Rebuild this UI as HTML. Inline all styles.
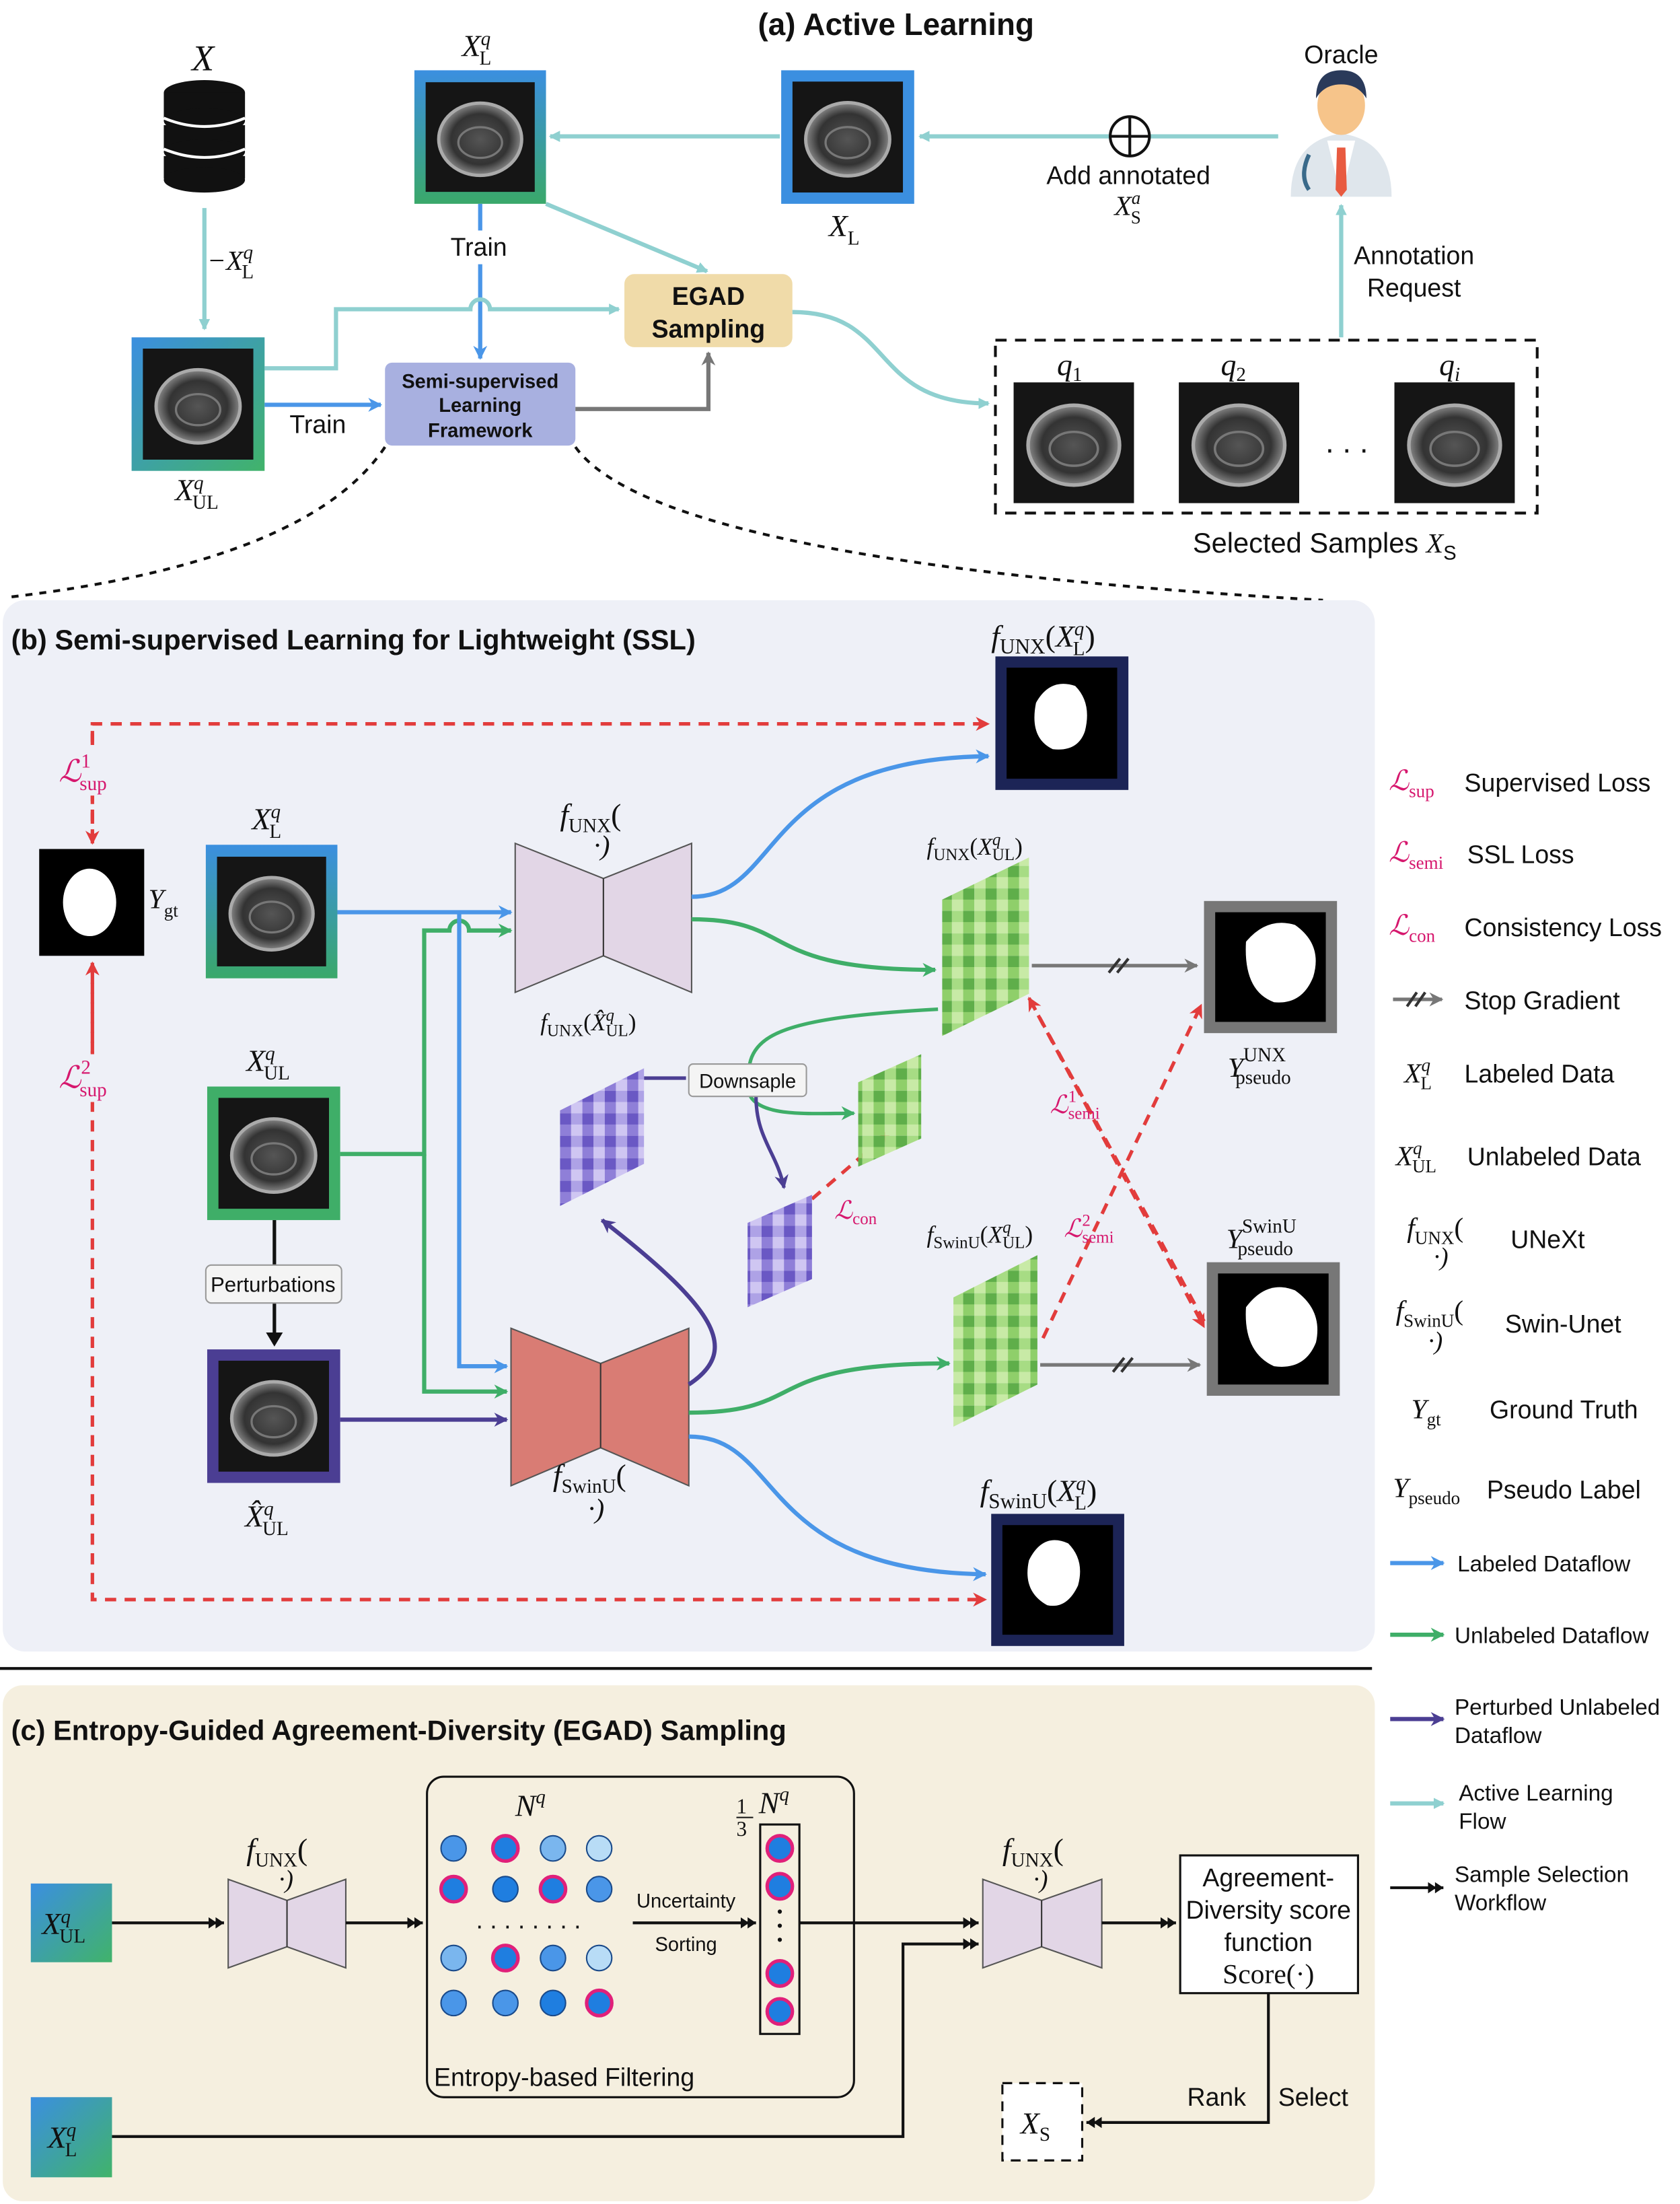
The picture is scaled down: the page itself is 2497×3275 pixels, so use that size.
<!DOCTYPE html>
<html><head><meta charset="utf-8"><style>
html,body{margin:0;padding:0;background:#fff}
svg{display:block}
text{font-family:"Liberation Sans",sans-serif;fill:#111}
.m{font-family:"Liberation Serif",serif;font-style:italic}
.r{font-family:"Liberation Serif",serif}
.u{font-style:normal}
</style></head><body>
<svg width="2497" height="3275" viewBox="0 0 1200 1568" preserveAspectRatio="none" xmlns="http://www.w3.org/2000/svg">
<defs>
<radialGradient id="rg" cx="50%" cy="50%" r="50%"><stop offset="0" stop-color="#555"/><stop offset=".7" stop-color="#333"/><stop offset="1" stop-color="#888"/></radialGradient>
<symbol id="us" viewBox="0 0 100 100"><rect width="100" height="100" fill="#151515"/><ellipse cx="50" cy="52" rx="38" ry="33" fill="url(#rg)" stroke="#aaa" stroke-width="3"/><ellipse cx="50" cy="55" rx="20" ry="14" fill="none" stroke="#777" stroke-width="2"/></symbol>
<linearGradient id="bg1" x1="0" y1="0" x2="0" y2="1"><stop offset="0" stop-color="#3b8fe0"/><stop offset="1" stop-color="#3aa86a"/></linearGradient>
<linearGradient id="bg2" x1="0" y1="0" x2="1" y2="1"><stop offset="0" stop-color="#3b8fe0"/><stop offset="1" stop-color="#41b36a"/></linearGradient>
<pattern id="pg" width="16" height="16" patternUnits="userSpaceOnUse"><rect width="8" height="8" fill="#8fcf6a"/><rect x="8" width="8" height="8" fill="#c8eaa6"/><rect y="8" width="8" height="8" fill="#5fae4a"/><rect x="8" y="8" width="8" height="8" fill="#a7dc84"/></pattern>
<pattern id="pp" width="16" height="16" patternUnits="userSpaceOnUse"><rect width="8" height="8" fill="#8f7fd8"/><rect x="8" width="8" height="8" fill="#cfc6f2"/><rect y="8" width="8" height="8" fill="#6a58c4"/><rect x="8" y="8" width="8" height="8" fill="#aea2e6"/></pattern>
<marker id="at" markerWidth="8" markerHeight="8" refX="7" refY="4" orient="auto" markerUnits="userSpaceOnUse"><path d="M0,0 L8,4 L0,8z" fill="#8fd0d0"/></marker>
<marker id="ab" markerWidth="10" markerHeight="10" refX="9" refY="5" orient="auto" markerUnits="userSpaceOnUse"><path d="M0,0 L10,5 L0,10 L3,5z" fill="#4a96e8"/></marker>
<marker id="ag" markerWidth="10" markerHeight="10" refX="9" refY="5" orient="auto" markerUnits="userSpaceOnUse"><path d="M0,0 L10,5 L0,10 L3,5z" fill="#3fae68"/></marker>
<marker id="ap" markerWidth="10" markerHeight="10" refX="9" refY="5" orient="auto" markerUnits="userSpaceOnUse"><path d="M0,0 L10,5 L0,10 L3,5z" fill="#4b3e93"/></marker>
<marker id="ar" markerWidth="10" markerHeight="10" refX="9" refY="5" orient="auto" markerUnits="userSpaceOnUse"><path d="M0,0 L10,5 L0,10 L3,5z" fill="#e23c3c"/></marker>
<marker id="agr" markerWidth="10" markerHeight="10" refX="9" refY="5" orient="auto" markerUnits="userSpaceOnUse"><path d="M0,0 L10,5 L0,10 L3,5z" fill="#777"/></marker>
<marker id="ak" markerWidth="12" markerHeight="8" refX="11" refY="4" orient="auto" markerUnits="userSpaceOnUse"><path d="M0,0 L6,4 L0,8z M5,0 L11,4 L5,8z" fill="#111"/></marker>
</defs>

<!-- (a) -->
<text x="640" y="25" font-size="22" font-weight="bold" text-anchor="middle">(a) Active Learning</text>
<text x="145" y="50" class="m" font-size="26" text-anchor="middle">X</text>
<g fill="#111"><ellipse cx="146" cy="66" rx="29" ry="9"/><rect x="117" y="66" width="58" height="18"/><ellipse cx="146" cy="86" rx="29" ry="9" /><rect x="117" y="89" width="58" height="18"/><ellipse cx="146" cy="108" rx="29" ry="9"/><rect x="117" y="111" width="58" height="16"/><ellipse cx="146" cy="128" rx="29" ry="9"/></g>
<g stroke="#fff" stroke-width="2" fill="none"><path d="M117,84 Q146,96 175,84"/><path d="M117,106 Q146,118 175,106"/></g>
<line x1="146" y1="148" x2="146" y2="234" stroke="#8fd0d0" stroke-width="3" marker-end="url(#at)"/>
<text x="148" y="192" class="m" font-size="20">−X<tspan font-size="14" dy="-8">q</tspan><tspan class="u" font-size="14" dx="-8" dy="14">L</tspan></text>

<rect x="296" y="50" width="94" height="95" fill="url(#bg1)"/><use href="#us" x="304" y="58" width="78" height="79"/>
<text x="330" y="40" class="m" font-size="22">X<tspan font-size="14" dy="-8">q</tspan><tspan class="u" font-size="14" dx="-8" dy="14">L</tspan></text>
<rect x="558" y="50" width="95" height="95" fill="#3b8fe0"/><use href="#us" x="566" y="58" width="79" height="79"/>
<text x="592" y="168" class="m" font-size="22">X<tspan class="u" font-size="14" dy="6">L</tspan></text>
<line x1="913" y1="97" x2="657" y2="97" stroke="#8fd0d0" stroke-width="3" marker-end="url(#at)"/>
<line x1="557" y1="97" x2="393" y2="97" stroke="#8fd0d0" stroke-width="3" marker-end="url(#at)"/>
<circle cx="807" cy="97" r="14" fill="#fff" stroke="#111" stroke-width="2"/><path d="M793,97h28M807,83v28" stroke="#111" stroke-width="2"/>
<text x="806" y="131" font-size="18" text-anchor="middle">Add annotated</text>
<text x="796" y="153" class="m" font-size="20">X<tspan font-size="13" dy="-8">a</tspan><tspan class="u" font-size="13" dx="-7" dy="14">S</tspan></text>
<text x="958" y="45" font-size="18" text-anchor="middle">Oracle</text>
<path d="M922,140 Q922,100 958,95 Q994,100 994,140z" fill="#dfe6ec"/>
<path d="M948,100 L958,140 L968,100z" fill="#fff"/><path d="M955,105 L961,105 L962,135 L958,140 L954,135z" fill="#e85a40"/>
<ellipse cx="958" cy="75" rx="17" ry="21" fill="#f6c48a"/><path d="M940,70 Q940,50 958,50 Q976,50 976,70 Q970,60 958,60 Q946,60 940,70z" fill="#2a3a5a"/>
<path d="M935,110 Q928,125 935,135" stroke="#3a6a8a" stroke-width="3" fill="none"/>
<line x1="958" y1="240" x2="958" y2="146" stroke="#8fd0d0" stroke-width="3" marker-end="url(#at)"/>
<text x="1010" y="188" font-size="18" text-anchor="middle">Annotation</text><text x="1010" y="211" font-size="18" text-anchor="middle">Request</text>

<text x="342" y="182" font-size="18" text-anchor="middle">Train</text>
<line x1="343" y1="145" x2="343" y2="164" stroke="#4a96e8" stroke-width="3"/>
<line x1="343" y1="188" x2="343" y2="255" stroke="#4a96e8" stroke-width="3" marker-end="url(#ab)"/>
<line x1="390" y1="145" x2="505" y2="193" stroke="#8fd0d0" stroke-width="3" marker-end="url(#at)"/>
<path d="M189,262 H240 V220 H336 A7,7 0 0 1 350,220 H442" stroke="#8fd0d0" stroke-width="3" fill="none" marker-end="url(#at)"/>
<rect x="446" y="195" width="120" height="52" rx="7" fill="#f0dba9"/>
<text x="506" y="217" font-size="18" font-weight="bold" text-anchor="middle">EGAD</text><text x="506" y="240" font-size="18" font-weight="bold" text-anchor="middle">Sampling</text>
<path d="M566,222 C640,222 620,287 706,287" stroke="#8fd0d0" stroke-width="3" fill="none" marker-end="url(#at)"/>
<rect x="94" y="240" width="95" height="95" fill="url(#bg2)"/><use href="#us" x="102" y="248" width="79" height="79"/>
<text x="125" y="356" class="m" font-size="22">X<tspan font-size="14" dy="-8">q</tspan><tspan class="u" font-size="14" dx="-8" dy="14">UL</tspan></text>
<line x1="189" y1="288" x2="272" y2="288" stroke="#4a96e8" stroke-width="3" marker-end="url(#ab)"/>
<text x="227" y="308" font-size="18" text-anchor="middle">Train</text>
<rect x="275" y="258" width="136" height="59" rx="5" fill="#a8b0e0"/>
<text x="343" y="276" font-size="14" font-weight="bold" text-anchor="middle">Semi-supervised</text><text x="343" y="293" font-size="14" font-weight="bold" text-anchor="middle">Learning</text><text x="343" y="311" font-size="14" font-weight="bold" text-anchor="middle">Framework</text>
<path d="M411,291 H506 V251" stroke="#777" stroke-width="3" fill="none" marker-end="url(#agr)"/>
<rect x="711" y="242" width="387" height="123" fill="none" stroke="#111" stroke-width="2" stroke-dasharray="8,6"/>
<use href="#us" x="724" y="272" width="86" height="86"/><use href="#us" x="842" y="272" width="86" height="86"/><use href="#us" x="996" y="272" width="86" height="86"/>
<text x="755" y="267" class="m" font-size="22">q<tspan class="u" font-size="14" dy="4">1</tspan></text>
<text x="872" y="267" class="m" font-size="22">q<tspan class="u" font-size="14" dy="4">2</tspan></text>
<text x="1028" y="267" class="m" font-size="22">q<tspan font-size="14" dy="4">i</tspan></text>
<text x="962" y="322" font-size="22" text-anchor="middle">. . .</text>
<text x="852" y="393" font-size="20">Selected Samples <tspan class="m">X</tspan><tspan font-size="14" dy="5">S</tspan></text>
<path d="M275,318 Q220,400 5,425" stroke="#111" stroke-width="2" fill="none" stroke-dasharray="5,5"/>
<path d="M411,318 Q470,400 945,427" stroke="#111" stroke-width="2" fill="none" stroke-dasharray="5,5"/>

<!-- (b) -->
<rect x="2" y="427" width="980" height="748" rx="16" fill="#eef0f7"/>
<text x="8" y="462" font-size="20" font-weight="bold">(b) Semi-supervised Learning for Lightweight (SSL)</text>
<g stroke="#e23c3c" stroke-width="2.5" fill="none" stroke-dasharray="8,6">
<path d="M66,600 V515 H706" marker-end="url(#ar)"/>
<path d="M66,685 V1138 H704" marker-end="url(#ar)"/>
<line x1="66" y1="520" x2="66" y2="600" marker-end="url(#ar)"/>
<line x1="66" y1="770" x2="66" y2="685" marker-end="url(#ar)"/>
<line x1="860" y1="940" x2="735" y2="710" marker-end="url(#ar)"/>
<line x1="735" y1="710" x2="860" y2="944" marker-end="url(#ar)"/>
<line x1="745" y1="952" x2="858" y2="715" marker-end="url(#ar)"/>
<line x1="580" y1="853" x2="636" y2="805" marker-end="url(#ar)"/>
</g>
<rect x="40" y="532" width="52" height="34" fill="#eef0f7"/><text x="42" y="556" class="m" font-size="22" style="fill:#d6186e">ℒ<tspan class="u" font-size="14" dy="-10">1</tspan><tspan class="u" font-size="14" dx="-8" dy="16">sup</tspan></text>
<rect x="40" y="750" width="52" height="34" fill="#eef0f7"/><text x="42" y="774" class="m" font-size="22" style="fill:#d6186e">ℒ<tspan class="u" font-size="14" dy="-10">2</tspan><tspan class="u" font-size="14" dx="-8" dy="16">sup</tspan></text>
<rect x="28" y="604" width="75" height="76" fill="#000"/><ellipse cx="64" cy="642" rx="19" ry="24" fill="#fff"/>
<text x="106" y="646" class="m" font-size="20">Y<tspan class="u" font-size="13" dy="6">gt</tspan></text>
<rect x="147" y="601" width="94" height="95" fill="url(#bg1)"/><use href="#us" x="155" y="609" width="78" height="79"/>
<text x="180" y="590" class="m" font-size="22">X<tspan font-size="14" dy="-8">q</tspan><tspan class="u" font-size="14" dx="-8" dy="14">L</tspan></text>
<rect x="148" y="773" width="95" height="95" fill="#3fae68"/><use href="#us" x="156" y="781" width="79" height="79"/>
<text x="176" y="762" class="m" font-size="22">X<tspan font-size="14" dy="-8">q</tspan><tspan class="u" font-size="14" dx="-8" dy="14">UL</tspan></text>
<line x1="196" y1="868" x2="196" y2="956" stroke="#111" stroke-width="2.5"/>
<path d="M190,948 L196,958 L202,948z" fill="#111"/>
<rect x="147" y="900" width="97" height="27" rx="4" fill="#f4f4f4" stroke="#999"/><text x="195" y="919" font-size="15" text-anchor="middle">Perturbations</text>
<rect x="148" y="960" width="95" height="95" fill="#4b3e93"/><use href="#us" x="156" y="968" width="79" height="79"/>
<text x="175" y="1086" class="m" font-size="22">X̂<tspan font-size="14" dy="-8">q</tspan><tspan class="u" font-size="14" dx="-8" dy="14">UL</tspan></text>
<line x1="241" y1="649" x2="365" y2="649" stroke="#4a96e8" stroke-width="3" marker-end="url(#ab)"/>
<path d="M243,821 H303 V662 H321 A7,7 0 0 1 335,662 H365" stroke="#3fae68" stroke-width="3" fill="none" marker-end="url(#ag)"/>
<path d="M328,649 V972 H362" stroke="#4a96e8" stroke-width="3" fill="none" marker-end="url(#ab)"/>
<path d="M303,821 V990 H362" stroke="#3fae68" stroke-width="3" fill="none" marker-end="url(#ag)"/>
<line x1="243" y1="1010" x2="362" y2="1010" stroke="#4b3e93" stroke-width="3" marker-end="url(#ap)"/>
<polygon points="368,600 431,625 494,600 494,706 431,680 368,706" fill="#e2d6e6" stroke="#555" stroke-width="1"/><line x1="431" y1="625" x2="431" y2="680" stroke="#333"/>
<text x="400" y="587" class="m" font-size="22">f<tspan class="r u" font-size="14" dy="5">UNX</tspan><tspan class="u" dy="-5">(</tspan></text><text x="424" y="608" class="m" font-size="20">·)</text>
<polygon points="365,945 429,970 492,945 492,1057 429,1030 365,1057" fill="#d97c74" stroke="#555" stroke-width="1"/><line x1="429" y1="970" x2="429" y2="1030" stroke="#333"/>
<text x="395" y="1057" class="m" font-size="22">f<tspan class="r u" font-size="14" dy="5">SwinU</tspan><tspan class="u" dy="-5">(</tspan></text><text x="420" y="1080" class="m" font-size="20">·)</text>
<path d="M494,638 C560,638 540,540 706,538" stroke="#4a96e8" stroke-width="3" fill="none" marker-end="url(#ab)"/>
<path d="M494,654 C570,654 540,690 668,690" stroke="#3fae68" stroke-width="3" fill="none" marker-end="url(#ag)"/>
<path d="M492,1022 C560,1022 540,1118 704,1120" stroke="#4a96e8" stroke-width="3" fill="none" marker-end="url(#ab)"/>
<path d="M492,1005 C580,1005 540,970 678,970" stroke="#3fae68" stroke-width="3" fill="none" marker-end="url(#ag)"/>
<path d="M492,985 C530,960 510,930 430,868" stroke="#4b3e93" stroke-width="3" fill="none" marker-end="url(#ap)"/>
<path d="M670,718 C540,725 530,740 536,780" stroke="#3fae68" stroke-width="2.5" fill="none"/>
<path d="M536,780 C545,795 580,792 610,792" stroke="#3fae68" stroke-width="2.5" fill="none" marker-end="url(#ag)"/>
<path d="M460,767 H490" stroke="#4b3e93" stroke-width="2.5"/><path d="M540,780 C540,810 555,820 560,845" stroke="#4b3e93" stroke-width="2.5" fill="none" marker-end="url(#ap)"/>
<rect x="492" y="757" width="84" height="23" rx="3" fill="#f4f4f4" stroke="#999"/><text x="534" y="774" font-size="14" text-anchor="middle">Downsaple</text>
<polygon points="673,640 735,610 735,707 673,737" fill="url(#pg)"/>
<polygon points="400,790 460,760 460,828 400,858" fill="url(#pp)"/>
<polygon points="613,770 658,750 658,810 613,830" fill="url(#pg)"/>
<polygon points="534,870 580,850 580,910 534,930" fill="url(#pp)"/>
<polygon points="681,923 741,893 741,985 681,1015" fill="url(#pg)"/>
<text x="662" y="608" class="m" font-size="17">f<tspan class="r u" font-size="12" dy="4">UNX</tspan><tspan class="u" dy="-4">(</tspan><tspan>X</tspan><tspan font-size="12" dy="-7">q</tspan><tspan class="u" font-size="12" dx="-6" dy="11">UL</tspan><tspan class="u" dy="-4">)</tspan></text>
<text x="386" y="733" class="m" font-size="17">f<tspan class="r u" font-size="12" dy="4">UNX</tspan><tspan class="u" dy="-4">(</tspan><tspan>X̂</tspan><tspan font-size="12" dy="-7">q</tspan><tspan class="u" font-size="12" dx="-6" dy="11">UL</tspan><tspan class="u" dy="-4">)</tspan></text>
<text x="662" y="884" class="m" font-size="17">f<tspan class="r u" font-size="12" dy="4">SwinU</tspan><tspan class="u" dy="-4">(</tspan><tspan>X</tspan><tspan font-size="12" dy="-7">q</tspan><tspan class="u" font-size="12" dx="-6" dy="11">UL</tspan><tspan class="u" dy="-4">)</tspan></text>
<text x="596" y="867" class="m" font-size="18" style="fill:#d6186e">ℒ<tspan class="u" font-size="12" dy="4">con</tspan></text>
<text x="750" y="792" class="m" font-size="18" style="fill:#d6186e">ℒ<tspan class="u" font-size="12" dy="-8">1</tspan><tspan class="u" font-size="12" dx="-6" dy="12">semi</tspan></text>
<text x="760" y="880" class="m" font-size="18" style="fill:#d6186e">ℒ<tspan class="u" font-size="12" dy="-8">2</tspan><tspan class="u" font-size="12" dx="-6" dy="12">semi</tspan></text>
<line x1="737" y1="687" x2="855" y2="687" stroke="#777" stroke-width="2.5" marker-end="url(#agr)"/><path d="M792,692l8,-10M798,692l8,-10" stroke="#333" stroke-width="2"/>
<line x1="743" y1="971" x2="857" y2="971" stroke="#777" stroke-width="2.5" marker-end="url(#agr)"/><path d="M795,976l8,-10M801,976l8,-10" stroke="#333" stroke-width="2"/>
<rect x="711" y="467" width="95" height="95" fill="#1c2456"/><rect x="719" y="475" width="79" height="79" fill="#000"/><path d="M740,500 Q750,482 768,488 Q780,500 775,520 Q770,535 752,533 Q735,525 740,500z" fill="#fff"/>
<text x="708" y="460" class="m" font-size="22">f<tspan class="r u" font-size="15" dy="5">UNX</tspan><tspan class="u" dy="-5">(</tspan><tspan>X</tspan><tspan font-size="14" dy="-8">q</tspan><tspan class="u" font-size="14" dx="-8" dy="14">L</tspan><tspan class="u" dy="-6">)</tspan></text>
<rect x="708" y="1077" width="95" height="94" fill="#1c2456"/><rect x="716" y="1085" width="79" height="78" fill="#000"/><path d="M735,1110 Q745,1090 763,1098 Q775,1110 770,1128 Q762,1145 748,1142 Q730,1132 735,1110z" fill="#fff"/>
<text x="700" y="1068" class="m" font-size="22">f<tspan class="r u" font-size="15" dy="5">SwinU</tspan><tspan class="u" dy="-5">(</tspan><tspan>X</tspan><tspan font-size="14" dy="-8">q</tspan><tspan class="u" font-size="14" dx="-8" dy="14">L</tspan><tspan class="u" dy="-6">)</tspan></text>
<rect x="860" y="641" width="95" height="94" fill="#777"/><rect x="868" y="649" width="79" height="78" fill="#000"/><path d="M890,670 Q905,652 925,658 Q945,672 938,695 Q930,715 910,713 Q888,705 890,670z" fill="#fff"/>
<text x="877" y="766" class="m" font-size="20">Y<tspan class="r u" font-size="14" dy="-11">UNX</tspan><tspan class="r u" font-size="14" dx="-36" dy="16">pseudo</tspan></text>
<rect x="862" y="898" width="95" height="95" fill="#777"/><rect x="870" y="906" width="79" height="79" fill="#000"/><path d="M890,930 Q905,910 925,918 Q945,932 940,955 Q932,975 910,972 Q888,962 890,930z" fill="#fff"/>
<text x="876" y="888" class="m" font-size="20">Y<tspan class="r u" font-size="14" dy="-11">SwinU</tspan><tspan class="r u" font-size="14" dx="-42" dy="16">pseudo</tspan></text>

<line x1="0" y1="1187" x2="980" y2="1187" stroke="#111" stroke-width="2"/>

<!-- (c) -->
<rect x="2" y="1199" width="980" height="367" rx="14" fill="#f5efdf"/>
<text x="8" y="1238" font-size="20" font-weight="bold">(c) Entropy-Guided Agreement-Diversity (EGAD) Sampling</text>
<rect x="22" y="1340" width="58" height="56" fill="url(#bg2)"/><text x="30" y="1376" class="m" font-size="22">X<tspan font-size="14" dy="-8">q</tspan><tspan class="u" font-size="14" dx="-8" dy="14">UL</tspan></text>
<rect x="22" y="1492" width="58" height="57" fill="url(#bg2)"/><text x="34" y="1528" class="m" font-size="22">X<tspan font-size="14" dy="-8">q</tspan><tspan class="u" font-size="14" dx="-8" dy="14">L</tspan></text>
<line x1="80" y1="1368" x2="160" y2="1368" stroke="#111" stroke-width="2" marker-end="url(#ak)"/>
<polygon points="163,1337 205,1352 247,1337 247,1400 205,1385 163,1400" fill="#e2d6e6" stroke="#555"/><line x1="205" y1="1352" x2="205" y2="1385" stroke="#333"/>
<text x="176" y="1323" class="m" font-size="22">f<tspan class="r u" font-size="14" dy="5">UNX</tspan><tspan class="u" dy="-5">(</tspan></text><text x="199" y="1343" class="m" font-size="18">·)</text>
<line x1="247" y1="1368" x2="302" y2="1368" stroke="#111" stroke-width="2" marker-end="url(#ak)"/>
<rect x="305" y="1264" width="305" height="228" rx="12" fill="none" stroke="#111" stroke-width="1.5"/>
<text x="368" y="1292" class="m" font-size="22">N<tspan font-size="14" dy="-9">q</tspan></text>
<g stroke-width="2.5">
<circle cx="324" cy="1315" r="9" fill="#4a96e8" stroke="#1a4a8a" stroke-width="1"/><circle cx="361" cy="1315" r="9" fill="#1f7ee0" stroke="#e0207a"/><circle cx="395" cy="1315" r="9" fill="#7ab6ee" stroke="#1a4a8a" stroke-width="1"/><circle cx="428" cy="1315" r="9" fill="#b8dcf6" stroke="#1a4a8a" stroke-width="1"/>
<circle cx="324" cy="1344" r="9" fill="#1f7ee0" stroke="#e0207a"/><circle cx="361" cy="1344" r="9" fill="#1f7ee0" stroke="#1a4a8a" stroke-width="1"/><circle cx="395" cy="1344" r="9" fill="#1f7ee0" stroke="#e0207a"/><circle cx="428" cy="1344" r="9" fill="#4a96e8" stroke="#1a4a8a" stroke-width="1"/>
<circle cx="324" cy="1393" r="9" fill="#7ab6ee" stroke="#1a4a8a" stroke-width="1"/><circle cx="361" cy="1393" r="9" fill="#1f7ee0" stroke="#e0207a"/><circle cx="395" cy="1393" r="9" fill="#4a96e8" stroke="#1a4a8a" stroke-width="1"/><circle cx="428" cy="1393" r="9" fill="#b8dcf6" stroke="#1a4a8a" stroke-width="1"/>
<circle cx="324" cy="1425" r="9" fill="#4a96e8" stroke="#1a4a8a" stroke-width="1"/><circle cx="361" cy="1425" r="9" fill="#4a96e8" stroke="#1a4a8a" stroke-width="1"/><circle cx="395" cy="1425" r="9" fill="#1f7ee0" stroke="#1a4a8a" stroke-width="1"/><circle cx="428" cy="1425" r="9" fill="#1f7ee0" stroke="#e0207a"/>
</g>
<text x="340" y="1372" font-size="18">. . . .   . . . .</text>
<text x="490" y="1357" font-size="14" text-anchor="middle">Uncertainty</text><text x="490" y="1388" font-size="14" text-anchor="middle">Sorting</text>
<line x1="452" y1="1368" x2="540" y2="1368" stroke="#111" stroke-width="2" marker-end="url(#ak)"/>
<text x="526" y="1290" class="r" font-size="15">1</text><line x1="526" y1="1293" x2="538" y2="1293" stroke="#111"/><text x="526" y="1306" class="r" font-size="15">3</text>
<text x="542" y="1290" class="m" font-size="22">N<tspan font-size="14" dy="-9">q</tspan></text>
<rect x="543" y="1298" width="28" height="149" fill="none" stroke="#111" stroke-width="1.5"/>
<g fill="#1f7ee0" stroke="#e0207a" stroke-width="2.5"><circle cx="557" cy="1315" r="9"/><circle cx="557" cy="1342" r="9"/><circle cx="557" cy="1404" r="9"/><circle cx="557" cy="1431" r="9"/></g>
<g fill="#111"><circle cx="557" cy="1360" r="1.5"/><circle cx="557" cy="1370" r="1.5"/><circle cx="557" cy="1380" r="1.5"/></g>
<text x="310" y="1484" font-size="18">Entropy-based Filtering</text>
<line x1="571" y1="1368" x2="699" y2="1368" stroke="#111" stroke-width="2" marker-end="url(#ak)"/>
<path d="M80,1520 H645 V1383 H699" stroke="#111" stroke-width="2" fill="none" marker-end="url(#ak)"/>
<polygon points="702,1337 744,1352 787,1337 787,1400 744,1385 702,1400" fill="#e2d6e6" stroke="#555"/><line x1="744" y1="1352" x2="744" y2="1385" stroke="#333"/>
<text x="716" y="1323" class="m" font-size="22">f<tspan class="r u" font-size="14" dy="5">UNX</tspan><tspan class="u" dy="-5">(</tspan></text><text x="738" y="1343" class="m" font-size="18">·)</text>
<line x1="787" y1="1368" x2="840" y2="1368" stroke="#111" stroke-width="2" marker-end="url(#ak)"/>
<rect x="843" y="1320" width="127" height="98" fill="#fff" stroke="#111" stroke-width="1.5"/>
<text x="906" y="1342" font-size="18" text-anchor="middle">Agreement-</text><text x="906" y="1365" font-size="18" text-anchor="middle">Diversity score</text><text x="906" y="1388" font-size="18" text-anchor="middle">function</text><text x="906" y="1411" class="r" font-size="20" text-anchor="middle">Score(·)</text>
<path d="M906,1418 V1510 H776" stroke="#111" stroke-width="2" fill="none" marker-end="url(#ak)"/>
<text x="848" y="1498" font-size="18">Rank</text><text x="913" y="1498" font-size="18">Select</text>
<rect x="716" y="1482" width="57" height="55" fill="#fff" stroke="#111" stroke-width="1.5" stroke-dasharray="7,5"/>
<text x="729" y="1518" class="m" font-size="22">X<tspan class="r u" font-size="14" dy="5">S</tspan></text>

<!-- legend -->
<g font-size="18">
<text x="992" y="562" class="m" style="fill:#d6186e" font-size="20">ℒ<tspan class="u" font-size="13" dy="5">sup</tspan></text><text x="1046" y="563">Supervised Loss</text>
<text x="992" y="613" class="m" style="fill:#d6186e" font-size="20">ℒ<tspan class="u" font-size="13" dy="5">semi</tspan></text><text x="1048" y="614">SSL Loss</text>
<text x="992" y="665" class="m" style="fill:#d6186e" font-size="20">ℒ<tspan class="u" font-size="13" dy="5">con</tspan></text><text x="1046" y="666">Consistency Loss</text>
<line x1="995" y1="711" x2="1030" y2="711" stroke="#777" stroke-width="2.5" marker-end="url(#agr)"/><path d="M1005,716l7,-10M1011,716l7,-10" stroke="#333" stroke-width="2"/><text x="1046" y="718">Stop Gradient</text>
<text x="1003" y="770" class="m" font-size="20">X<tspan font-size="13" dy="-8">q</tspan><tspan class="u" font-size="13" dx="-7" dy="13">L</tspan></text><text x="1046" y="770">Labeled Data</text>
<text x="997" y="829" class="m" font-size="20">X<tspan font-size="13" dy="-8">q</tspan><tspan class="u" font-size="13" dx="-7" dy="13">UL</tspan></text><text x="1048" y="829">Unlabeled Data</text>
<text x="1005" y="880" class="m" font-size="20">f<tspan class="r u" font-size="13" dy="5">UNX</tspan><tspan class="u" dy="-5">(</tspan></text><text x="1024" y="900" class="m" font-size="18">·)</text><text x="1079" y="888">UNeXt</text>
<text x="997" y="939" class="m" font-size="20">f<tspan class="r u" font-size="13" dy="5">SwinU</tspan><tspan class="u" dy="-5">(</tspan></text><text x="1020" y="960" class="m" font-size="18">·)</text><text x="1075" y="948">Swin-Unet</text>
<text x="1008" y="1009" class="m" font-size="20">Y<tspan class="r u" font-size="13" dy="5">gt</tspan></text><text x="1064" y="1009">Ground Truth</text>
<text x="995" y="1065" class="m" font-size="20">Y<tspan class="r u" font-size="13" dy="5">pseudo</tspan></text><text x="1062" y="1066">Pseudo Label</text>
<line x1="993" y1="1112" x2="1031" y2="1112" stroke="#4a96e8" stroke-width="3" marker-end="url(#ab)"/><text x="1041" y="1118" font-size="16">Labeled Dataflow</text>
<line x1="993" y1="1163" x2="1031" y2="1163" stroke="#3fae68" stroke-width="3" marker-end="url(#ag)"/><text x="1039" y="1169" font-size="16">Unlabeled Dataflow</text>
<line x1="993" y1="1223" x2="1031" y2="1223" stroke="#4b3e93" stroke-width="3" marker-end="url(#ap)"/><text x="1039" y="1220" font-size="16">Perturbed Unlabeled</text><text x="1039" y="1240" font-size="16">Dataflow</text>
<line x1="993" y1="1283" x2="1031" y2="1283" stroke="#8fd0d0" stroke-width="3" marker-end="url(#at)"/><text x="1042" y="1281" font-size="16">Active Learning</text><text x="1042" y="1301" font-size="16">Flow</text>
<line x1="993" y1="1343" x2="1031" y2="1343" stroke="#111" stroke-width="2" marker-end="url(#ak)"/><text x="1039" y="1339" font-size="16">Sample Selection</text><text x="1039" y="1359" font-size="16">Workflow</text>
</g>
</svg>
</body></html>
